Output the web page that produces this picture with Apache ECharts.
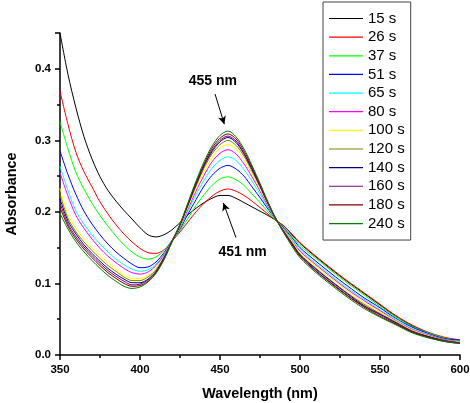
<!DOCTYPE html>
<html><head><meta charset="utf-8">
<script src="https://cdn.jsdelivr.net/npm/echarts@6/dist/echarts.min.js"></script>
<style>html,body{margin:0;padding:0;background:#fff}#c{width:470px;height:403px}</style>
</head><body><div id="c"></div>
<script>
const wavelengths = [350,355,360,365,370,375,380,385,390,395,400,405,410,415,420,425,430,435,440,445,450,455,460,465,470,475,480,485,490,495,500,510,520,530,540,550,560,570,580,590,600];
const seriesNames = ['15 s','26 s','37 s','51 s','65 s','80 s','100 s','120 s','140 s','160 s','180 s','240 s'];
const seriesColors = ['#000000','#ff0000','#00ff00','#0000ff','#00ffff','#ff00ff','#ffff00','#808000','#000080','#800080','#800000','#008000'];
const s15 = [0.450,0.392,0.345,0.305,0.274,0.249,0.230,0.215,0.202,0.190,0.178,0.168,0.165,0.168,0.175,0.185,0.196,0.205,0.213,0.219,0.223,0.223,0.219,0.213,0.207,0.201,0.195,0.188,0.180,0.168,0.156,0.137,0.119,0.102,0.086,0.070,0.054,0.041,0.031,0.024,0.020];
const s26 = [0.369,0.322,0.283,0.256,0.235,0.214,0.197,0.182,0.169,0.158,0.149,0.143,0.142,0.147,0.159,0.172,0.186,0.200,0.212,0.222,0.229,0.232,0.229,0.223,0.215,0.206,0.197,0.188,0.180,0.169,0.157,0.138,0.120,0.103,0.087,0.071,0.055,0.042,0.032,0.025,0.021];
const s37 = [0.326,0.288,0.255,0.232,0.212,0.195,0.180,0.166,0.154,0.144,0.137,0.134,0.137,0.146,0.160,0.174,0.191,0.209,0.224,0.237,0.246,0.249,0.245,0.237,0.225,0.213,0.200,0.188,0.178,0.166,0.153,0.135,0.117,0.100,0.084,0.068,0.053,0.040,0.031,0.024,0.020];
const s51 = [0.285,0.252,0.224,0.201,0.183,0.168,0.155,0.144,0.135,0.127,0.122,0.123,0.130,0.143,0.160,0.176,0.197,0.217,0.236,0.251,0.261,0.265,0.260,0.250,0.235,0.220,0.204,0.189,0.177,0.164,0.150,0.131,0.113,0.096,0.080,0.066,0.051,0.039,0.030,0.023,0.021];
const s65 = [0.264,0.230,0.201,0.183,0.168,0.155,0.144,0.134,0.126,0.120,0.117,0.119,0.127,0.141,0.160,0.178,0.201,0.224,0.244,0.261,0.272,0.277,0.272,0.259,0.243,0.225,0.206,0.189,0.176,0.162,0.147,0.128,0.110,0.093,0.078,0.063,0.050,0.037,0.029,0.022,0.019];
const s80 = [0.255,0.222,0.195,0.177,0.162,0.149,0.138,0.129,0.121,0.115,0.113,0.116,0.125,0.140,0.160,0.179,0.204,0.229,0.251,0.270,0.282,0.287,0.281,0.267,0.249,0.229,0.208,0.189,0.175,0.160,0.145,0.126,0.108,0.091,0.076,0.062,0.048,0.036,0.028,0.022,0.018];
const s100 = [0.233,0.196,0.177,0.162,0.150,0.139,0.129,0.120,0.112,0.107,0.107,0.111,0.121,0.138,0.159,0.180,0.207,0.233,0.256,0.276,0.289,0.294,0.288,0.273,0.253,0.232,0.210,0.190,0.174,0.159,0.143,0.124,0.106,0.089,0.073,0.060,0.047,0.035,0.027,0.021,0.018];
const s120 = [0.225,0.191,0.172,0.158,0.146,0.135,0.125,0.117,0.109,0.104,0.104,0.109,0.119,0.137,0.159,0.181,0.209,0.236,0.261,0.281,0.294,0.300,0.293,0.278,0.257,0.235,0.211,0.190,0.173,0.157,0.141,0.121,0.103,0.086,0.071,0.058,0.046,0.034,0.026,0.021,0.017];
const s140 = [0.218,0.187,0.169,0.154,0.142,0.131,0.121,0.113,0.106,0.101,0.101,0.106,0.117,0.136,0.159,0.182,0.210,0.238,0.264,0.284,0.298,0.304,0.297,0.281,0.259,0.236,0.212,0.190,0.172,0.156,0.140,0.120,0.102,0.085,0.069,0.057,0.045,0.033,0.026,0.020,0.017];
const s160 = [0.212,0.183,0.165,0.151,0.139,0.128,0.118,0.110,0.103,0.098,0.099,0.105,0.116,0.135,0.159,0.182,0.211,0.239,0.265,0.286,0.300,0.306,0.299,0.282,0.261,0.237,0.212,0.190,0.172,0.155,0.139,0.118,0.100,0.083,0.068,0.056,0.044,0.033,0.025,0.020,0.017];
const s180 = [0.206,0.180,0.162,0.148,0.136,0.125,0.115,0.107,0.100,0.096,0.097,0.103,0.115,0.134,0.158,0.182,0.212,0.241,0.267,0.289,0.303,0.309,0.302,0.285,0.263,0.238,0.213,0.190,0.171,0.154,0.138,0.117,0.099,0.082,0.067,0.054,0.043,0.032,0.025,0.019,0.016];
const s240 = [0.198,0.176,0.158,0.144,0.132,0.121,0.111,0.103,0.096,0.093,0.095,0.102,0.114,0.133,0.158,0.183,0.213,0.243,0.270,0.292,0.307,0.313,0.305,0.288,0.265,0.240,0.214,0.190,0.170,0.152,0.136,0.115,0.097,0.080,0.065,0.053,0.042,0.031,0.024,0.019,0.016];
const allValues = [s15,s26,s37,s51,s65,s80,s100,s120,s140,s160,s180,s240];
const xTicks = {min:350, max:600, interval:50};
const yTicks = {min:0, max:0.45, interval:0.1};
// annotations in data coordinates
const annotTexts = [{text:'455 nm', at:[445.5,0.3825]}, {text:'451 nm', at:[464.1,0.1431]}];
const annotArrows = [[[446.9,0.3647],[452.7,0.3226]], [[460.0,0.164],[452.1,0.2125]]];

const FONT = '"Liberation Sans", Arial, sans-serif';
const chart = echarts.init(document.getElementById('c'), null, {renderer:'canvas'});
const series = allValues.map((vals, k) => ({
  name: seriesNames[k], type:'line', symbol:'none', smooth:0.3,
  data: wavelengths.map((w,i)=>[w, vals[i]]),
  lineStyle:{width:1, color:seriesColors[k]}, itemStyle:{color:seriesColors[k]},
  z: 2 + k
}));
series[0].markLine = {
  silent:true, symbol:['none','arrow'], symbolSize:[6,8], animation:false,
  lineStyle:{color:'#000', width:1, type:'solid'}, label:{show:false},
  data: annotArrows.map(a => [{coord:a[0]},{coord:a[1]}])
};
chart.setOption({
  animation:false,
  backgroundColor:'#fff',
  grid:{left:60, right:10, top:33, bottom:48, containLabel:false, outerBoundsMode:'none'},
  legend:{
    orient:'vertical', left:323, top:2, padding:[9,6,9,6],
    itemWidth:34, itemHeight:14, itemGap:3.64,
    icon:'path://M0,0H34V1.2H0Z', itemStyle:{borderWidth:0},
    borderColor:'#444', borderWidth:1, backgroundColor:'#fff',
    textStyle:{fontFamily:FONT, fontSize:15, color:'#000'},
    data: seriesNames
  },
  xAxis:{
    type:'value', min:xTicks.min, max:xTicks.max, interval:xTicks.interval,
    name:'Wavelength (nm)', nameLocation:'middle', nameGap:32,
    nameTextStyle:{fontFamily:FONT, fontSize:14.4, fontWeight:'bold', color:'#000'},
    axisLine:{show:true, onZero:false, lineStyle:{color:'#000', width:1.5}},
    axisTick:{show:true, inside:false, length:5, lineStyle:{color:'#000', width:1.5}},
    minorTick:{show:true, splitNumber:2, length:3, lineStyle:{color:'#000', width:1.5}},
    axisLabel:{fontFamily:FONT, fontSize:11.5, fontWeight:'bold', color:'#000', margin:9},
    splitLine:{show:false}
  },
  yAxis:{
    type:'value', min:yTicks.min, max:yTicks.max, interval:yTicks.interval,
    name:'Absorbance', nameLocation:'middle', nameGap:41,
    nameTextStyle:{fontFamily:FONT, fontSize:14.4, fontWeight:'bold', color:'#000'},
    axisLine:{show:true, onZero:false, lineStyle:{color:'#000', width:1.5}},
    axisTick:{show:true, inside:false, length:5, lineStyle:{color:'#000', width:1.5}},
    minorTick:{show:true, splitNumber:2, length:3, lineStyle:{color:'#000', width:1.5}},
    axisLabel:{fontFamily:FONT, fontSize:11.5, fontWeight:'bold', color:'#000', margin:9,
      formatter: v => (Math.abs(v - yTicks.max) < 1e-9 ? '' : v.toFixed(1))},
    splitLine:{show:false}
  },
  series: series
});
const graphics = annotTexts.map(a => {
  const p = chart.convertToPixel({gridIndex:0}, a.at);
  return {type:'text', x:p[0], y:p[1], z:100,
    style:{text:a.text, font:'bold 14px ' + FONT, fill:'#000', align:'center', verticalAlign:'middle'}};
});
chart.setOption({graphic: graphics});
</script></body></html>
